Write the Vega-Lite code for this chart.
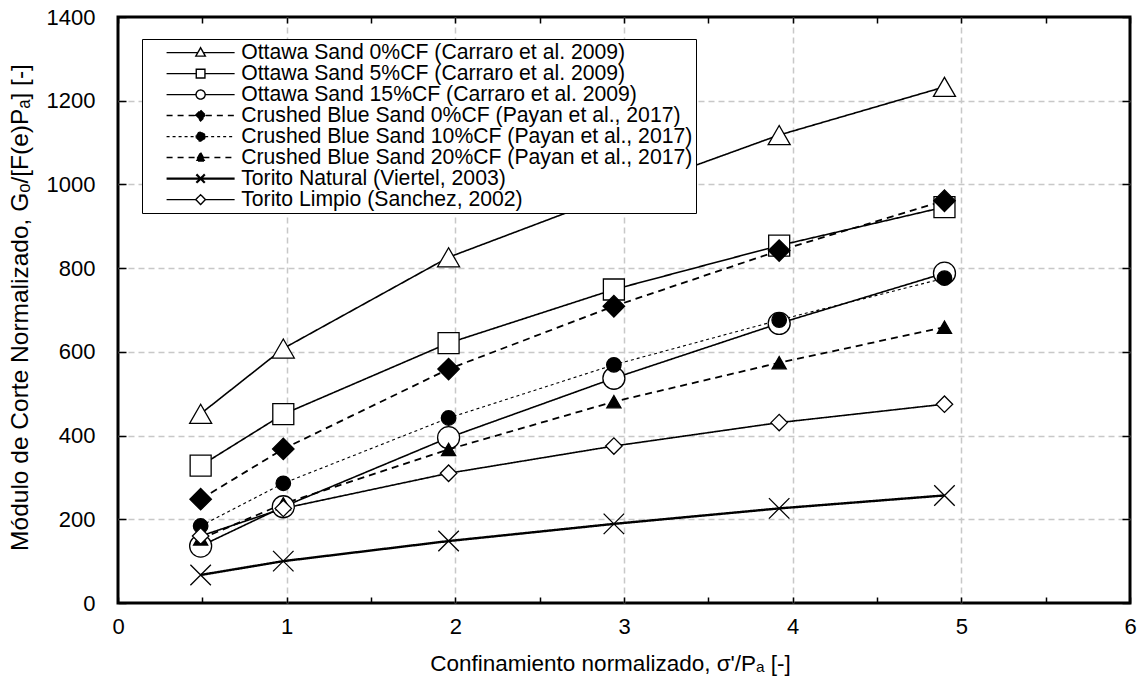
{
  "$schema": "https://vega.github.io/schema/vega-lite/v6.json",
  "width": 1012,
  "height": 586,
  "autosize": "none",
  "padding": {"left": 118, "top": 17, "right": 10, "bottom": 82},
  "background": "white",
  "config": {
    "font": "Liberation Sans",
    "view": {"stroke": "black", "strokeWidth": 3},
    "axis": {"labelColor": "black", "titleColor": "black", "tickColor": "black", "titleFontWeight": "normal"}
  },
  "data": {
    "values": [
      {"series": "Ottawa Sand 0%CF (Carraro et al. 2009)", "x": 0.49, "y": 452},
      {"series": "Ottawa Sand 0%CF (Carraro et al. 2009)", "x": 0.98, "y": 608},
      {"series": "Ottawa Sand 0%CF (Carraro et al. 2009)", "x": 1.96, "y": 826},
      {"series": "Ottawa Sand 0%CF (Carraro et al. 2009)", "x": 2.94, "y": 975},
      {"series": "Ottawa Sand 0%CF (Carraro et al. 2009)", "x": 3.92, "y": 1118},
      {"series": "Ottawa Sand 0%CF (Carraro et al. 2009)", "x": 4.9, "y": 1233},
      {"series": "Ottawa Sand 5%CF (Carraro et al. 2009)", "x": 0.49, "y": 328},
      {"series": "Ottawa Sand 5%CF (Carraro et al. 2009)", "x": 0.98, "y": 451},
      {"series": "Ottawa Sand 5%CF (Carraro et al. 2009)", "x": 1.96, "y": 621},
      {"series": "Ottawa Sand 5%CF (Carraro et al. 2009)", "x": 2.94, "y": 749},
      {"series": "Ottawa Sand 5%CF (Carraro et al. 2009)", "x": 3.92, "y": 854},
      {"series": "Ottawa Sand 5%CF (Carraro et al. 2009)", "x": 4.9, "y": 946},
      {"series": "Ottawa Sand 15%CF (Carraro et al. 2009)", "x": 0.49, "y": 136},
      {"series": "Ottawa Sand 15%CF (Carraro et al. 2009)", "x": 0.98, "y": 230},
      {"series": "Ottawa Sand 15%CF (Carraro et al. 2009)", "x": 1.96, "y": 395},
      {"series": "Ottawa Sand 15%CF (Carraro et al. 2009)", "x": 2.94, "y": 537},
      {"series": "Ottawa Sand 15%CF (Carraro et al. 2009)", "x": 3.92, "y": 668},
      {"series": "Ottawa Sand 15%CF (Carraro et al. 2009)", "x": 4.9, "y": 788},
      {"series": "Crushed Blue Sand 0%CF (Payan et al., 2017)", "x": 0.49, "y": 248},
      {"series": "Crushed Blue Sand 0%CF (Payan et al., 2017)", "x": 0.98, "y": 368},
      {"series": "Crushed Blue Sand 0%CF (Payan et al., 2017)", "x": 1.96, "y": 559},
      {"series": "Crushed Blue Sand 0%CF (Payan et al., 2017)", "x": 2.94, "y": 709},
      {"series": "Crushed Blue Sand 0%CF (Payan et al., 2017)", "x": 3.92, "y": 842},
      {"series": "Crushed Blue Sand 0%CF (Payan et al., 2017)", "x": 4.9, "y": 961},
      {"series": "Crushed Blue Sand 10%CF (Payan et al., 2017)", "x": 0.49, "y": 184},
      {"series": "Crushed Blue Sand 10%CF (Payan et al., 2017)", "x": 0.98, "y": 286},
      {"series": "Crushed Blue Sand 10%CF (Payan et al., 2017)", "x": 1.96, "y": 442},
      {"series": "Crushed Blue Sand 10%CF (Payan et al., 2017)", "x": 2.94, "y": 569},
      {"series": "Crushed Blue Sand 10%CF (Payan et al., 2017)", "x": 3.92, "y": 676},
      {"series": "Crushed Blue Sand 10%CF (Payan et al., 2017)", "x": 4.9, "y": 776},
      {"series": "Crushed Blue Sand 20%CF (Payan et al., 2017)", "x": 0.49, "y": 153},
      {"series": "Crushed Blue Sand 20%CF (Payan et al., 2017)", "x": 0.98, "y": 237},
      {"series": "Crushed Blue Sand 20%CF (Payan et al., 2017)", "x": 1.96, "y": 367},
      {"series": "Crushed Blue Sand 20%CF (Payan et al., 2017)", "x": 2.94, "y": 481},
      {"series": "Crushed Blue Sand 20%CF (Payan et al., 2017)", "x": 3.92, "y": 574},
      {"series": "Crushed Blue Sand 20%CF (Payan et al., 2017)", "x": 4.9, "y": 659},
      {"series": "Torito Natural (Viertel, 2003)", "x": 0.49, "y": 67},
      {"series": "Torito Natural (Viertel, 2003)", "x": 0.98, "y": 100},
      {"series": "Torito Natural (Viertel, 2003)", "x": 1.96, "y": 148},
      {"series": "Torito Natural (Viertel, 2003)", "x": 2.94, "y": 189},
      {"series": "Torito Natural (Viertel, 2003)", "x": 3.92, "y": 226},
      {"series": "Torito Natural (Viertel, 2003)", "x": 4.9, "y": 257},
      {"series": "Torito Limpio (Sanchez, 2002)", "x": 0.49, "y": 160},
      {"series": "Torito Limpio (Sanchez, 2002)", "x": 0.98, "y": 226},
      {"series": "Torito Limpio (Sanchez, 2002)", "x": 1.96, "y": 310},
      {"series": "Torito Limpio (Sanchez, 2002)", "x": 2.94, "y": 375},
      {"series": "Torito Limpio (Sanchez, 2002)", "x": 3.92, "y": 431},
      {"series": "Torito Limpio (Sanchez, 2002)", "x": 4.9, "y": 475}
    ]
  },
  "resolve": {
    "scale": {"shape": "independent", "fill": "independent", "stroke": "independent", "strokeDash": "independent", "strokeWidth": "independent", "size": "independent"},
    "axis": {"x": "independent", "y": "independent"}
  },
  "layer": [
    {
      "mark": {"type": "line", "color": "black"},
      "encoding": {
        "x": {"field": "x", "type": "quantitative", "scale": {"domain": [0, 6], "nice": false, "zero": false},
          "axis": {"orient": "bottom", "values": [0, 0.5, 1, 1.5, 2, 2.5, 3, 3.5, 4, 4.5, 5, 5.5, 6],
            "labelExpr": "datum.value % 1 === 0 ? format(datum.value, 'd') : ''",
            "grid": true, "gridColor": "#c8c8c8", "gridDash": [6, 4], "gridWidth": 1.5,
            "gridOpacity": {"condition": {"test": "datum.value % 1 !== 0 || datum.value === 0 || datum.value === 6", "value": 0}, "value": 1},
            "domain": false, "tickWidth": 1.5, "tickSize": -6, "labelPadding": 19, "labelFontSize": 22, "labelFlush": false, "labelOverlap": false,
            "title": "Confinamiento normalizado, σ'/Pₐ  [-]", "titleFontSize": 22.5, "titlePadding": 15, "titleX": 492, "titleAlign": "center"}},
        "y": {"field": "y", "type": "quantitative", "scale": {"domain": [0, 1400], "nice": false},
          "axis": {"orient": "left", "values": [0, 200, 400, 600, 800, 1000, 1200, 1400], "format": "d",
            "grid": true, "gridColor": "#c8c8c8", "gridDash": [6, 4], "gridWidth": 1.5,
            "gridOpacity": {"condition": {"test": "datum.value === 0 || datum.value === 1400", "value": 0}, "value": 1},
            "domain": false, "tickWidth": 1.5, "tickSize": -8, "labelPadding": 31, "labelFontSize": 22, "labelFlush": false, "labelOverlap": false,
            "title": "Módulo de Corte Normalizado, Gₒ/[F(e)Pₐ] [-]", "titleFontSize": 24.5, "titlePadding": 14, "titleY": 290, "titleAlign": "center"}},
        "strokeDash": {"field": "series", "type": "nominal", "legend": null,
          "scale": {"domain": ["Ottawa Sand 0%CF (Carraro et al. 2009)", "Ottawa Sand 5%CF (Carraro et al. 2009)", "Ottawa Sand 15%CF (Carraro et al. 2009)", "Crushed Blue Sand 0%CF (Payan et al., 2017)", "Crushed Blue Sand 10%CF (Payan et al., 2017)", "Crushed Blue Sand 20%CF (Payan et al., 2017)", "Torito Natural (Viertel, 2003)", "Torito Limpio (Sanchez, 2002)"],
            "range": [[1, 0], [1, 0], [1, 0], [7, 5], [3, 3], [7, 5], [1, 0], [1, 0]]}},
        "strokeWidth": {"field": "series", "type": "nominal", "legend": null,
          "scale": {"type": "ordinal", "domain": ["Ottawa Sand 0%CF (Carraro et al. 2009)", "Ottawa Sand 5%CF (Carraro et al. 2009)", "Ottawa Sand 15%CF (Carraro et al. 2009)", "Crushed Blue Sand 0%CF (Payan et al., 2017)", "Crushed Blue Sand 10%CF (Payan et al., 2017)", "Crushed Blue Sand 20%CF (Payan et al., 2017)", "Torito Natural (Viertel, 2003)", "Torito Limpio (Sanchez, 2002)"],
            "range": [1.6, 1.6, 1.6, 1.8, 1.1, 1.8, 2.4, 1.6]}}
      }
    },
    {
      "mark": {"type": "point", "stroke": "black", "strokeWidth": 1.3, "opacity": 1, "filled": true},
      "encoding": {
        "x": {"field": "x", "type": "quantitative",
          "axis": {"orient": "top", "values": [0, 0.5, 1, 1.5, 2, 2.5, 3, 3.5, 4, 4.5, 5, 5.5, 6], "labels": false, "grid": false, "domain": false, "tickSize": -6, "tickWidth": 1.5, "title": null}},
        "y": {"field": "y", "type": "quantitative",
          "axis": {"orient": "right", "values": [0, 200, 400, 600, 800, 1000, 1200, 1400], "labels": false, "grid": false, "domain": false, "tickSize": -8, "tickWidth": 1.5, "title": null}},
        "shape": {"field": "series", "type": "nominal", "legend": null,
          "scale": {"domain": ["Ottawa Sand 0%CF (Carraro et al. 2009)", "Ottawa Sand 5%CF (Carraro et al. 2009)", "Ottawa Sand 15%CF (Carraro et al. 2009)", "Crushed Blue Sand 0%CF (Payan et al., 2017)", "Crushed Blue Sand 10%CF (Payan et al., 2017)", "Crushed Blue Sand 20%CF (Payan et al., 2017)", "Torito Natural (Viertel, 2003)", "Torito Limpio (Sanchez, 2002)"],
            "range": ["triangle-up", "square", "circle", "diamond", "circle", "triangle-up", "M-1,-1L1,1M-1,1L1,-1", "diamond"]}},
        "fill": {"field": "series", "type": "nominal", "legend": null,
          "scale": {"domain": ["Ottawa Sand 0%CF (Carraro et al. 2009)", "Ottawa Sand 5%CF (Carraro et al. 2009)", "Ottawa Sand 15%CF (Carraro et al. 2009)", "Crushed Blue Sand 0%CF (Payan et al., 2017)", "Crushed Blue Sand 10%CF (Payan et al., 2017)", "Crushed Blue Sand 20%CF (Payan et al., 2017)", "Torito Natural (Viertel, 2003)", "Torito Limpio (Sanchez, 2002)"],
            "range": ["white", "white", "white", "black", "black", "black", "white", "white"]}},
        "size": {"field": "series", "type": "nominal", "legend": null,
          "scale": {"type": "ordinal", "domain": ["Ottawa Sand 0%CF (Carraro et al. 2009)", "Ottawa Sand 5%CF (Carraro et al. 2009)", "Ottawa Sand 15%CF (Carraro et al. 2009)", "Crushed Blue Sand 0%CF (Payan et al., 2017)", "Crushed Blue Sand 10%CF (Payan et al., 2017)", "Crushed Blue Sand 20%CF (Payan et al., 2017)", "Torito Natural (Viertel, 2003)", "Torito Limpio (Sanchez, 2002)"],
            "range": [484, 441, 484, 460, 210, 200, 420, 270]}}
      }
    },
    {
      "mark": {"type": "point", "opacity": 0, "filled": true},
      "encoding": {
        "x": {"field": "x", "type": "quantitative", "axis": null},
        "y": {"field": "y", "type": "quantitative", "axis": null},
        "shape": {"field": "series", "type": "nominal",
          "scale": {"domain": ["Ottawa Sand 0%CF (Carraro et al. 2009)", "Ottawa Sand 5%CF (Carraro et al. 2009)", "Ottawa Sand 15%CF (Carraro et al. 2009)", "Crushed Blue Sand 0%CF (Payan et al., 2017)", "Crushed Blue Sand 10%CF (Payan et al., 2017)", "Crushed Blue Sand 20%CF (Payan et al., 2017)", "Torito Natural (Viertel, 2003)", "Torito Limpio (Sanchez, 2002)"],
            "range": [
              "M-4.86,0H-0.4M0.4,0H4.86M0,-0.7L0.68,0.5L-0.68,0.5Z",
              "M-4.86,0H-0.62M0.62,0H4.86M-0.62,-0.62H0.62V0.62H-0.62Z",
              "M-4.86,0H-0.65M0.65,0H4.86M0.65,0A0.65,0.65 0 1 1 -0.65,0A0.65,0.65 0 1 1 0.65,0Z",
              "M-4.86,0H-0.75M0.75,0H4.86M0,-0.75L0.75,0L0,0.75L-0.75,0Z",
              "M-4.86,0H-0.65M0.65,0H4.86M0.65,0A0.65,0.65 0 1 1 -0.65,0A0.65,0.65 0 1 1 0.65,0Z",
              "M-4.86,0H-0.4M0.4,0H4.86M0,-0.7L0.68,0.5L-0.68,0.5Z",
              "M-4.86,0H4.86M-0.6,-0.6L0.6,0.6M-0.6,0.6L0.6,-0.6",
              "M-4.86,0H-0.7M0.7,0H4.86M0,-0.7L0.7,0L0,0.7L-0.7,0Z"
            ]},
          "legend": {"orient": "none", "legendX": 24, "legendY": 22, "title": null, "padding": 3, "rowPadding": -1.6,
            "symbolSize": 196, "symbolOffset": 45, "labelOffset": 30, "labelFontSize": 21.2, "labelFont": "Liberation Sans", "labelColor": "black", "labelLimit": 1000,
            "labelExpr": "datum.label + '\u2003\u2009\u2009'",
            "strokeColor": "black", "fillColor": "white", "symbolOpacity": 1, "offset": 0}},
        "fill": {"field": "series", "type": "nominal",
          "scale": {"domain": ["Ottawa Sand 0%CF (Carraro et al. 2009)", "Ottawa Sand 5%CF (Carraro et al. 2009)", "Ottawa Sand 15%CF (Carraro et al. 2009)", "Crushed Blue Sand 0%CF (Payan et al., 2017)", "Crushed Blue Sand 10%CF (Payan et al., 2017)", "Crushed Blue Sand 20%CF (Payan et al., 2017)", "Torito Natural (Viertel, 2003)", "Torito Limpio (Sanchez, 2002)"],
            "range": ["white", "white", "white", "black", "black", "black", "white", "white"]}},
        "stroke": {"field": "series", "type": "nominal",
          "scale": {"domain": ["Ottawa Sand 0%CF (Carraro et al. 2009)", "Ottawa Sand 5%CF (Carraro et al. 2009)", "Ottawa Sand 15%CF (Carraro et al. 2009)", "Crushed Blue Sand 0%CF (Payan et al., 2017)", "Crushed Blue Sand 10%CF (Payan et al., 2017)", "Crushed Blue Sand 20%CF (Payan et al., 2017)", "Torito Natural (Viertel, 2003)", "Torito Limpio (Sanchez, 2002)"],
            "range": ["black", "black", "black", "black", "black", "black", "black", "black"]}},
        "strokeDash": {"field": "series", "type": "nominal",
          "scale": {"domain": ["Ottawa Sand 0%CF (Carraro et al. 2009)", "Ottawa Sand 5%CF (Carraro et al. 2009)", "Ottawa Sand 15%CF (Carraro et al. 2009)", "Crushed Blue Sand 0%CF (Payan et al., 2017)", "Crushed Blue Sand 10%CF (Payan et al., 2017)", "Crushed Blue Sand 20%CF (Payan et al., 2017)", "Torito Natural (Viertel, 2003)", "Torito Limpio (Sanchez, 2002)"],
            "range": [[1, 0], [1, 0], [1, 0], [6, 5], [3, 3], [6, 5], [1, 0], [1, 0]]}},
        "strokeWidth": {"field": "series", "type": "nominal",
          "scale": {"type": "ordinal", "domain": ["Ottawa Sand 0%CF (Carraro et al. 2009)", "Ottawa Sand 5%CF (Carraro et al. 2009)", "Ottawa Sand 15%CF (Carraro et al. 2009)", "Crushed Blue Sand 0%CF (Payan et al., 2017)", "Crushed Blue Sand 10%CF (Payan et al., 2017)", "Crushed Blue Sand 20%CF (Payan et al., 2017)", "Torito Natural (Viertel, 2003)", "Torito Limpio (Sanchez, 2002)"],
            "range": [1.4, 1.4, 1.4, 1.5, 1.1, 1.5, 2.2, 1.4]}}
      }
    }
  ]
}
